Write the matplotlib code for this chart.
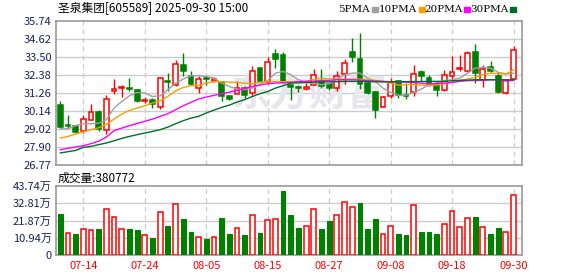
import matplotlib
matplotlib.use('Agg')
import matplotlib.pyplot as plt
import numpy as np

plt.rcParams['font.family'] = ['Noto Sans CJK SC', 'DejaVu Sans']

# candles, 2025-07-09 .. 2025-09-30
opens = [30.52, 29.26, 29.22, 28.89, 29.59, 30.07, 28.95, 31.35, 31.56, 31.54,
         31.46, 30.73, 30.84, 30.38, 32.02, 31.73, 33.01, 32.29, 31.56, 32.18,
         32.00, 31.93, 31.08, 31.21, 31.58, 31.25, 32.81, 31.91, 33.70, 33.63,
         31.77, 31.62, 31.50, 31.77, 31.98, 31.81, 31.56, 32.43, 33.84, 33.37,
         31.87, 31.29, 30.38, 31.08, 31.98, 31.14, 31.31, 32.54, 32.18, 31.73,
         31.44, 32.33, 32.72, 32.60, 33.80, 32.08, 32.85, 32.33, 31.25, 32.12]
highs = [30.77, 29.88, 29.26, 29.90, 30.59, 30.21, 31.13, 32.12, 31.73, 32.18,
         31.52, 31.00, 30.94, 32.25, 32.49, 33.32, 33.72, 32.64, 32.29, 32.33,
         32.25, 32.02, 31.14, 32.02, 31.70, 32.91, 32.81, 33.47, 33.99, 33.84,
         31.77, 31.77, 31.87, 32.74, 32.74, 31.87, 32.60, 33.37, 34.67, 35.02,
         31.98, 31.35, 31.04, 32.18, 32.04, 31.87, 33.01, 32.70, 32.39, 32.02,
         32.70, 33.57, 33.63, 33.88, 34.32, 33.01, 33.22, 32.49, 32.12, 34.20]
lows = [29.09, 29.05, 28.76, 28.74, 29.59, 28.86, 28.68, 31.21, 30.98, 31.35,
        30.67, 30.63, 30.32, 30.25, 31.35, 31.66, 32.29, 31.73, 31.25, 31.77,
        31.91, 30.73, 30.84, 31.21, 30.94, 31.14, 31.98, 31.83, 32.81, 31.87,
        30.84, 31.29, 31.42, 31.73, 31.56, 31.46, 31.35, 31.81, 33.16, 31.52,
        31.21, 29.69, 30.36, 30.94, 30.94, 30.90, 31.04, 31.98, 31.71, 31.04,
        31.40, 31.98, 32.60, 32.56, 31.87, 31.60, 32.54, 31.25, 31.17, 32.08]
closes = [29.16, 29.18, 28.80, 29.63, 30.09, 28.99, 30.88, 31.50, 31.64, 31.50,
          30.73, 30.84, 30.59, 32.18, 31.93, 33.05, 32.60, 31.83, 32.12, 32.12,
          32.12, 31.08, 30.90, 31.56, 31.14, 32.60, 32.02, 33.16, 33.37, 31.91,
          31.60, 31.54, 31.62, 32.35, 31.66, 31.54, 32.33, 33.12, 33.47, 31.81,
          31.25, 30.17, 31.00, 31.93, 31.14, 31.04, 32.45, 32.29, 31.83, 31.46,
          32.39, 32.56, 32.81, 33.74, 32.49, 32.76, 32.60, 31.29, 32.08, 33.95]

ma5 = [29.01, 29.03, 29.22, 29.34, 29.34, 29.38, 29.59, 30.32, 30.73, 31.08,
       31.29, 31.25, 31.04, 31.08, 31.46, 31.87, 32.12, 32.33, 32.33, 32.29,
       32.18, 31.87, 31.66, 31.50, 31.46, 31.56, 31.77, 32.04, 32.49, 32.60,
       32.39, 32.08, 31.91, 31.87, 31.77, 31.83, 32.12, 32.39, 32.49, 32.49,
       32.18, 31.98, 31.56, 31.29, 31.12, 31.12, 31.29, 31.50, 31.77, 31.87,
       32.04, 32.08, 32.18, 32.49, 32.80, 32.85, 32.80, 32.54, 32.45, 32.49]
ma10 = [28.45, 28.55, 28.70, 28.84, 28.97, 29.09, 29.30, 29.63, 29.94, 30.17,
        30.32, 30.46, 30.63, 30.77, 31.04, 31.38, 31.60, 31.71, 31.73, 31.87,
        31.96, 31.96, 31.93, 31.91, 31.87, 31.83, 31.91, 31.96, 31.96, 31.96,
        31.96, 31.96, 31.98, 32.12, 32.14, 32.14, 32.12, 32.12, 32.12, 32.12,
        32.08, 32.04, 31.98, 31.87, 31.75, 31.77, 31.77, 31.75, 31.71, 31.75,
        31.83, 31.93, 32.04, 32.12, 32.24, 32.39, 32.49, 32.47, 32.43, 32.70]
ma20 = [27.72, 27.81, 27.89, 27.97, 28.10, 28.26, 28.51, 28.91, 29.07, 29.22,
        29.36, 29.49, 29.63, 29.80, 29.96, 30.21, 30.46, 30.67, 30.88, 31.00,
        31.11, 31.21, 31.31, 31.42, 31.54, 31.66, 31.75, 31.83, 31.87, 31.89,
        31.91, 31.96, 31.98, 32.00, 32.02, 32.04, 32.08, 32.08, 32.08, 32.06,
        32.02, 32.00, 31.98, 31.96, 31.93, 31.93, 31.91, 31.87, 31.83, 31.85,
        31.87, 31.91, 31.98, 32.02, 32.04, 32.04, 32.08, 32.08, 32.00, 32.04]
ma30 = [27.52, 27.60, 27.68, 27.87, 27.93, 28.04, 28.14, 28.28, 28.43, 28.55,
        28.66, 28.76, 28.86, 28.97, 29.13, 29.34, 29.53, 29.69, 29.80, 30.01,
        30.19, 30.36, 30.50, 30.69, 30.84, 31.04, 31.21, 31.35, 31.56, 31.71,
        31.87, 31.89, 31.91, 31.93, 31.95, 31.95, 31.96, 31.98, 31.98, 31.98,
        31.97, 31.96, 31.95, 31.95, 31.96, 31.96, 31.97, 31.97, 31.98, 31.98,
        31.98, 32.02, 32.04, 32.06, 32.08, 32.08, 32.08, 32.08, 32.07, 32.08]

# volume in 万 shares, colour by change vs previous close
volumes = [26.1, 13.8, 13.4, 16.3, 15.7, 16.6, 29.1, 24.0, 16.3, 16.6,
           15.9, 12.5, 10.8, 27.2, 18.5, 32.3, 22.9, 14.7, 11.3, 10.2,
           11.3, 23.6, 13.4, 17.0, 12.7, 25.3, 14.0, 22.1, 22.9, 40.8,
           25.5, 17.4, 18.3, 29.3, 16.6, 21.7, 25.3, 33.5, 30.4, 33.1,
           16.6, 22.9, 13.2, 18.3, 13.2, 12.7, 31.6, 14.4, 14.4, 13.2,
           19.5, 27.8, 17.6, 23.4, 24.2, 17.6, 13.2, 17.2, 14.4, 38.0]
vol_dir = list('grgrrgrrrggrgrgrggrgrggrgrgrrgggrrggrrrgggrrggrgggrrrrgrggrr')

price_ticks = [26.77, 27.90, 29.02, 30.14, 31.26, 32.38, 33.50, 34.62, 35.74]
vol_ticks = [0, 10.94, 21.87, 32.81, 43.74]
vol_tick_labels = ['0', '10.94万', '21.87万', '32.81万', '43.74万']
date_pos = [3, 11, 19, 27, 35, 43, 51, 59]
date_labels = ['07-14', '07-24', '08-05', '08-15', '08-27', '09-08', '09-18', '09-30']

RED = '#ff0000'
GREEN = '#008000'
FRAME = '#999999'
GRID = '#cccccc'
TICK = '#1a2060'


def style_axis(ax):
    for s in ax.spines.values():
        s.set_color(FRAME)
        s.set_linewidth(1.2)
    ax.tick_params(axis='both', length=0, pad=3, labelsize=8, labelcolor=TICK)
    for p in date_pos:
        ax.axvline(p, color=GRID, lw=0.9, ls=(0, (4, 3)), zorder=0)


def draw_candles(ax):
    x = np.arange(len(opens))
    for i in x:
        o, h, l, c = opens[i], highs[i], lows[i], closes[i]
        up = c >= o
        col = RED if up else GREEN
        ax.vlines(i, l, h, color=col, lw=1, zorder=2)
        bottom = min(o, c)
        height = max(abs(c - o), 0.04)
        ax.bar(i, height, bottom=bottom, width=0.62,
               color='white' if up else GREEN, edgecolor=col,
               linewidth=1.1, zorder=3)
    ax.plot(x, ma5, color='#a0a0a0', lw=1, zorder=4)
    ax.plot(x, ma10, color='#f5a000', lw=1, zorder=4)
    ax.plot(x, ma20, color='#ff00ff', lw=1, zorder=4)
    ax.plot(x, ma30, color='#006f2c', lw=1, zorder=4)


def draw_volume(ax):
    for i, v in enumerate(volumes):
        if vol_dir[i] == 'r':
            ax.bar(i, v, width=0.62, color='white', edgecolor=RED,
                   linewidth=1.1, zorder=3)
        else:
            ax.bar(i, v, width=0.62, color=GREEN, edgecolor=GREEN,
                   linewidth=0.8, zorder=3)


fig = plt.figure(figsize=(5.78, 2.76), dpi=100)
ax1 = fig.add_axes([56 / 578, 1 - 165 / 276, 466 / 578, 144 / 276])
ax2 = fig.add_axes([56 / 578, 1 - 255 / 276, 466 / 578, 69 / 276])

xlim = (-0.56, 60.1)

style_axis(ax1)
ax1.set_xlim(*xlim)
ax1.set_ylim(price_ticks[0], price_ticks[-1])
ax1.set_yticks(price_ticks)
ax1.set_yticklabels(['%.2f' % t for t in price_ticks])
ax1.set_xticks([])
for t in price_ticks[1:-1]:
    ax1.axhline(t, color=GRID, lw=1, zorder=0)
# faint watermark
ax1.text(0.545, 0.486, '东方财富', transform=ax1.transAxes, fontsize=28,
         fontweight='bold', color='#e6e6ec', ha='center', va='center', zorder=1)
draw_candles(ax1)

style_axis(ax2)
ax2.set_xlim(*xlim)
ax2.set_ylim(0, vol_ticks[-1])
ax2.set_yticks(vol_ticks)
ax2.set_yticklabels(vol_tick_labels)
ax2.set_xticks(date_pos)
ax2.set_xticklabels(date_labels, color=RED)
ax2.tick_params(axis='x', labelcolor=RED, pad=4)
for t in vol_ticks[1:-1]:
    ax2.axhline(t, color=GRID, lw=1, zorder=0)
draw_volume(ax2)

fig.text(58 / 578, 1 - 9 / 276, '圣泉集团[605589] 2025-09-30 15:00',
         fontsize=8.5, va='center', ha='left', color='black')
fig.text(58 / 578, 1 - 178 / 276, '成交量:380772',
         fontsize=8.5, va='center', ha='left', color='black')

legend_items = [('5PMA', '#a0a0a0', 338), ('10PMA', '#f5a000', 379),
                ('20PMA', '#ff00ff', 424), ('30PMA', '#006f2c', 470)]
for label, col, px in legend_items:
    t = fig.text(px / 578, 1 - 9 / 276, label, fontsize=7.5, va='center',
                 ha='left', color='black', family='DejaVu Serif')
fig.canvas.draw()
renderer = fig.canvas.get_renderer()
for txt in fig.texts[2:]:
    bb = txt.get_window_extent(renderer)
    col = [c for lab, c, p in legend_items if lab == txt.get_text()][0]
    fig.patches.append(plt.Rectangle(((bb.x1 + 2) / 578, (bb.y0 + bb.y1) / 2 / 276 - 2.5 / 276),
                                     6 / 578, 5 / 276, transform=fig.transFigure,
                                     color=col, figure=fig))

fig.savefig('out.png', dpi=100)
